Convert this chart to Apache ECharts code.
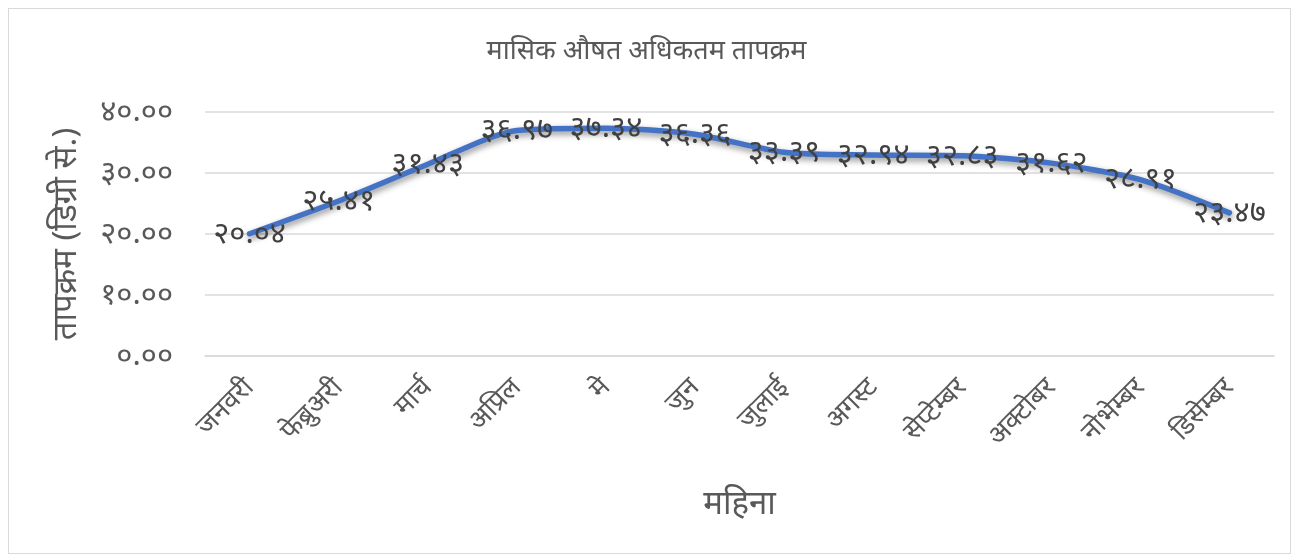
<!DOCTYPE html>
<html>
<head>
<meta charset="utf-8">
<script src="https://cdn.jsdelivr.net/npm/echarts@6/dist/echarts.min.js"></script>
<style>
html,body{margin:0;padding:0;background:#fff;}
#frame{position:absolute;left:8px;top:8px;width:1283px;height:546px;border:1px solid #d9d9d9;box-sizing:border-box;}
#chart{position:absolute;left:0;top:0;width:1293px;height:556px;}
</style>
</head>
<body>
<div id="frame"></div>
<div id="chart"></div>
<script>
const titleText = 'मासिक औषत अधिकतम तापक्रम';
const yAxisName = 'तापक्रम (डिग्री से.)';
const xAxisName = 'महिना';
const months = ['जनवरी','फेब्रुअरी','मार्च','अप्रिल','मे','जुन','जुलाई','अगस्ट','सेप्टेम्बर','अक्टोबर','नोभेम्बर','डिसेम्बर'];
const maxTemp = [20.04, 25.41, 31.43, 36.97, 37.34, 36.36, 33.39, 32.94, 32.83, 31.62, 28.91, 23.47];
const yTicks = [0, 10, 20, 30, 40];

const devDigits = ['०','१','२','३','४','५','६','७','८','९'];
function toDev(v){
  return Number(v).toFixed(2).replace(/[0-9]/g, d => devDigits[+d]);
}
const FONT = '"Noto Sans", "Noto Sans Devanagari", sans-serif';
const chart = echarts.init(document.getElementById('chart'), null, {renderer:'canvas'});
chart.setOption({
  backgroundColor: 'transparent',
  animation: false,
  title: {
    text: titleText, left: 'center', top: 33,
    textStyle: {fontFamily: FONT, fontSize: 27, fontWeight: 'normal', color: '#595959'}
  },
  grid: {left: 205, right: 19, top: 112, bottom: 200},
  xAxis: {
    type: 'category', data: months, boundaryGap: true,
    name: xAxisName, nameLocation: 'middle', nameGap: 132,
    nameTextStyle: {fontFamily: FONT, fontSize: 33, color: '#595959'},
    axisLine: {show: true, lineStyle: {color: '#d9d9d9', width: 1.5}},
    axisTick: {show: false},
    axisLabel: {rotate: 45, margin: 27, fontFamily: FONT, fontSize: 27, color: '#595959', interval: 0}
  },
  yAxis: {
    type: 'value', min: yTicks[0], max: yTicks[yTicks.length-1], interval: 10,
    name: yAxisName, nameLocation: 'middle', nameGap: 122,
    nameTextStyle: {fontFamily: FONT, fontSize: 33, color: '#595959'},
    axisLine: {show: false}, axisTick: {show: false},
    splitLine: {lineStyle: {color: '#d9d9d9', width: 1.5}},
    axisLabel: {margin: 32, fontFamily: FONT, fontSize: 31, color: '#595959', formatter: v => toDev(v)}
  },
  series: [{
    type: 'line', data: maxTemp, smooth: 0.25,
    symbol: 'circle', symbolSize: 2, showSymbol: true,
    itemStyle: {color: 'rgba(68,114,196,0)', borderWidth: 0},
    lineStyle: {color: '#4472C4', width: 5.5, cap: 'round', shadowColor: 'rgba(0,0,0,0.45)', shadowBlur: 6, shadowOffsetY: 3, shadowOffsetX: 1},
    label: {show: true, position: 'inside', offset: [0, 3], fontFamily: FONT, fontSize: 31, color: '#404040', formatter: p => toDev(p.value)},
    labelLayout: {hideOverlap: false}
  }]
});
</script>
</body>
</html>
